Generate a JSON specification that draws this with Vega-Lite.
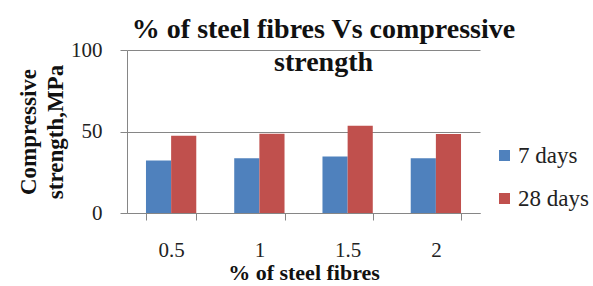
{
  "$schema": "https://vega.github.io/schema/vega-lite/v6.json",
  "width": 353,
  "height": 163,
  "autosize": "none",
  "padding": {"left": 127, "top": 50, "right": 113, "bottom": 73},
  "background": "white",
  "title": {
    "text": ["% of steel fibres Vs compressive", "strength"],
    "font": "'Liberation Serif', 'Times New Roman', 'DejaVu Serif', serif",
    "fontSize": 28,
    "fontWeight": "bold",
    "color": "#111111",
    "lineHeight": 33,
    "anchor": "middle",
    "dx": 20,
    "offset": -38
  },
  "data": {
    "values": [
      {"fibre": "0.5", "age": "7 days", "strength": 32.2},
      {"fibre": "0.5", "age": "28 days", "strength": 47.4},
      {"fibre": "1", "age": "7 days", "strength": 33.6},
      {"fibre": "1", "age": "28 days", "strength": 48.6},
      {"fibre": "1.5", "age": "7 days", "strength": 34.6},
      {"fibre": "1.5", "age": "28 days", "strength": 53.5},
      {"fibre": "2", "age": "7 days", "strength": 33.6},
      {"fibre": "2", "age": "28 days", "strength": 48.4}
    ]
  },
  "mark": {"type": "bar"},
  "encoding": {
    "x": {
      "field": "fibre",
      "type": "nominal",
      "sort": ["0.5", "1", "1.5", "2"],
      "scale": {"paddingInner": 0.43, "paddingOuter": 0.215},
      "axis": {
        "title": "% of steel fibres",
        "titleFont": "'Liberation Serif', 'Times New Roman', 'DejaVu Serif', serif",
        "titleFontSize": 22,
        "titleFontWeight": "bold",
        "titleColor": "#111111",
        "titlePadding": 2,
        "labelFont": "'Liberation Serif', 'Times New Roman', 'DejaVu Serif', serif",
        "labelFontSize": 21,
        "labelColor": "#222222",
        "labelAngle": 0,
        "labelPadding": 19,
        "domainColor": "#868686",
        "tickColor": "#868686",
        "tickSize": 7,
        "tickBand": "extent",
        "grid": false
      }
    },
    "xOffset": {"field": "age", "type": "nominal", "sort": ["7 days", "28 days"], "scale": {"paddingInner": 0}},
    "y": {
      "field": "strength",
      "type": "quantitative",
      "scale": {"domain": [0, 100], "nice": false},
      "axis": {
        "values": [0, 50, 100],
        "title": ["Compressive", "strength,MPa"],
        "titleFont": "'Liberation Serif', 'Times New Roman', 'DejaVu Serif', serif",
        "titleFontSize": 23,
        "titleFontWeight": "bold",
        "titleColor": "#111111",
        "titleLineHeight": 27,
        "titlePadding": 3,
        "labelFont": "'Liberation Serif', 'Times New Roman', 'DejaVu Serif', serif",
        "labelFontSize": 21,
        "labelColor": "#222222",
        "labelPadding": 18,
        "domainColor": "#868686",
        "tickColor": "#868686",
        "tickSize": 7,
        "gridColor": "#868686",
        "grid": true
      }
    },
    "color": {
      "field": "age",
      "type": "nominal",
      "sort": ["7 days", "28 days"],
      "scale": {"domain": ["7 days", "28 days"], "range": ["#4F81BD", "#C0504D"]},
      "legend": {
        "title": null,
        "orient": "none",
        "legendX": 366,
        "legendY": 94,
        "padding": 0,
        "symbolType": "square",
        "symbolSize": 121,
        "symbolStrokeWidth": 0,
        "symbolOpacity": 1,
        "labelFont": "'Liberation Serif', 'Times New Roman', 'DejaVu Serif', serif",
        "labelFontSize": 23,
        "labelColor": "#222222",
        "labelOffset": 2,
        "rowPadding": 19
      }
    }
  },
  "config": {
    "view": {"stroke": null},
    "bar": {"opacity": 1}
  }
}
